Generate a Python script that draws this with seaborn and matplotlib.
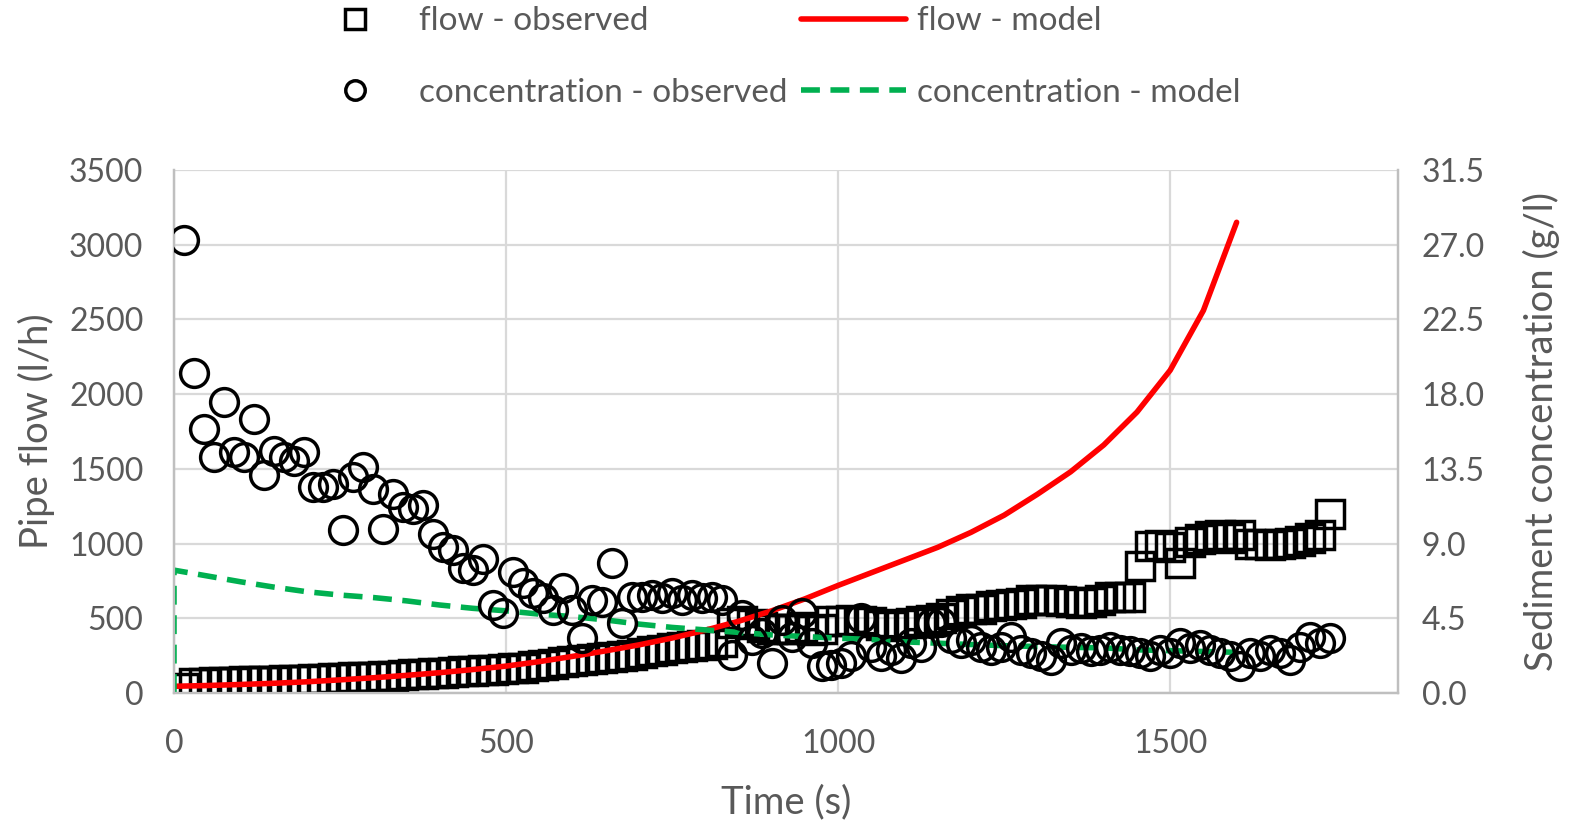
import matplotlib
matplotlib.use("Agg")
import matplotlib.pyplot as plt
import seaborn as sns
import pandas as pd

# ---- data -------------------------------------------------------------
# sampling times of the observations (s)
obs_time = [
    15, 30, 45, 60, 75, 90, 105, 120, 135, 150, 165, 180, 195, 210, 225, 240,
    255, 270, 285, 300, 315, 330, 345, 360, 375, 390, 405, 420, 435, 450, 465,
    480, 495, 510, 525, 540, 555, 570, 585, 600, 615, 630, 645, 660, 675, 690,
    705, 720, 735, 750, 765, 780, 795, 810, 825, 840, 855, 870, 885, 900, 915,
    930, 945, 960, 975, 990, 1005, 1020, 1035, 1050, 1065, 1080, 1095, 1110,
    1125, 1140, 1155, 1170, 1185, 1200, 1215, 1230, 1245, 1260, 1275, 1290,
    1305, 1320, 1335, 1350, 1365, 1380, 1395, 1410, 1425, 1440, 1455, 1470,
    1485, 1500, 1515, 1530, 1545, 1560, 1575, 1590, 1605, 1620, 1635, 1650,
    1665, 1680, 1695, 1710, 1725, 1740,
]

# observed pipe flow (l/h)
flow_observed = [
    35, 68, 70, 72, 74, 75, 77, 79, 81, 83, 85, 88, 90, 93, 96, 98,
    101, 104, 107, 110, 113, 116, 120, 124, 128, 132, 136, 140, 144, 148, 152,
    156, 160, 165, 170, 178, 185, 195, 205, 214, 220, 226, 232, 240, 246, 256,
    270, 280, 290, 300, 305, 312, 320, 330, 340, 470, 485, 460, 440, 430, 425,
    430, 440, 420, 430, 480, 485, 490, 480, 475, 455, 450, 460, 470,
    480, 490, 500, 530, 550, 560, 565, 580, 590, 595, 600, 620,
    625, 620, 615, 610, 605, 612, 620, 640, 645, 645, 850, 985,
    990, 980, 870, 1010, 1030, 1050, 1060, 1040, 1055, 1000, 995, 990,
    1000, 1005, 1020, 1040, 1060, 1200,
]

# observed sediment concentration (g/l)
conc_observed = [
    27.3, 19.3, 15.9, 14.2, 17.5, 14.5, 14.2, 16.5, 13.1, 14.6, 14.2, 14.0, 14.5, 12.4, 12.4, 12.6,
    9.8, 13.0, 13.6, 12.3, 9.9, 12.0, 11.2, 11.1, 11.3, 9.6, 8.8, 8.6, 7.5, 7.4, 8.1,
    5.3, 4.8, 7.3, 6.6, 6.0, 5.7, 5.0, 6.3, 5.0, 3.3, 5.6, 5.5, 7.8, 4.2, 5.8,
    5.8, 5.9, 5.7, 6.0, 5.6, 5.9, 5.7, 5.8, 5.6, 2.3, 4.7, 3.2, 3.6, 1.8, 4.4,
    3.4, 4.8, 3.0, 1.6, 1.7, 1.8, 2.2, 4.5, 2.8, 2.2, 2.6, 2.1, 3.0,
    2.8, 4.2, 4.3, 3.3, 3.0, 3.2, 2.8, 2.6, 2.8, 3.4, 2.6, 2.4,
    2.2, 2.0, 3.0, 2.6, 2.7, 2.5, 2.6, 2.8, 2.6, 2.5, 2.4, 2.2,
    2.6, 2.4, 3.0, 2.7, 2.9, 2.6, 2.4, 2.2, 1.6, 2.4, 2.2, 2.6,
    2.4, 2.0, 2.8, 3.4, 3.0, 3.3,
]

# model output times (s)
model_time = [
    0, 50, 100, 150, 200, 250, 300, 350, 400, 450, 500, 550, 600, 650, 700,
    750, 800, 850, 900, 950, 1000, 1050, 1100, 1150, 1200, 1250, 1300, 1350,
    1400, 1450, 1500, 1550, 1600,
]

# modelled pipe flow (l/h)
flow_model = [
    45, 50, 57, 65, 75, 88, 102, 118, 136, 157, 180, 210, 245, 282, 322,
    368, 420, 480, 550, 630, 720, 805, 890, 975, 1075, 1190, 1330, 1480,
    1660, 1880, 2160, 2560, 3150,
]

# modelled concentration starts from zero at t = 0
conc_model_time = [0] + model_time
conc_model = [
    0.0, 7.4, 7.05, 6.7, 6.38, 6.1, 5.9, 5.75, 5.55, 5.3, 5.1, 4.95, 4.75, 4.6,
    4.4, 4.15, 3.95, 3.8, 3.65, 3.5, 3.4, 3.3, 3.22, 3.08, 3.0, 2.92, 2.85,
    2.8, 2.75, 2.72, 2.6, 2.55, 2.5, 2.45,
]

flow_ticks = [0, 500, 1000, 1500, 2000, 2500, 3000, 3500]
conc_ticks = [0.0, 4.5, 9.0, 13.5, 18.0, 22.5, 27.0, 31.5]
time_ticks = [0, 500, 1000, 1500]

obs = pd.DataFrame({"time": obs_time, "flow": flow_observed, "conc": conc_observed})
mod_flow = pd.DataFrame({"time": model_time, "flow": flow_model})
mod_conc = pd.DataFrame({"time": conc_model_time, "conc": conc_model})

# ---- styling ----------------------------------------------------------
sns.set_theme(style="white")
plt.rcParams["font.family"] = ["Lato", "DejaVu Sans"]
TEXT = "#595959"
GRID = "#d9d9d9"
AXIS = "#bfbfbf"
FS = 23        # tick labels
FS_TITLE = 27.5  # axis titles
FS_LEG = 24    # legend

fig = plt.figure(figsize=(15.7, 8.26), dpi=100)
ax = fig.add_axes([174 / 1570, 133 / 826, 1224 / 1570, 523 / 826])
ax2 = ax.twinx()

marker_kw = dict(linestyle="none", markersize=20, markerfacecolor="none",
                 markeredgecolor="black", markeredgewidth=2.5)

# primary axis: flow
sns.lineplot(data=obs, x="time", y="flow", ax=ax, estimator=None, sort=False,
             marker="s", label="flow - observed", legend=False, zorder=3,
             **marker_kw)
sns.lineplot(data=mod_flow, x="time", y="flow", ax=ax, estimator=None, sort=False,
             color="#ff0000", linewidth=4.0, solid_capstyle="round",
             label="flow - model", legend=False, zorder=4)

# secondary axis: concentration
sns.lineplot(data=mod_conc, x="time", y="conc", ax=ax2, estimator=None, sort=False,
             color="#00b050", linewidth=4.0, linestyle=(0, (3.4, 1.9)),
             label="concentration - model", legend=False, zorder=2)
sns.lineplot(data=obs, x="time", y="conc", ax=ax2, estimator=None, sort=False,
             marker="o", label="concentration - observed", legend=False,
             zorder=3, **marker_kw)

ax.set_xlim(0, 1843)
ax.set_ylim(0, 3500)
ax2.set_ylim(0, 31.5)
ax.set_xticks(time_ticks)
ax.set_yticks(flow_ticks)
ax2.set_yticks(conc_ticks)
ax2.set_yticklabels([f"{v:.1f}" for v in conc_ticks])

ax.grid(True, color=GRID, linewidth=1.6)
ax.set_axisbelow(True)
ax2.grid(False)

for a in (ax, ax2):
    a.spines["top"].set_visible(False)
    for side in ("left", "right", "bottom"):
        a.spines[side].set_color(AXIS)
        a.spines[side].set_linewidth(1.6)
    a.tick_params(length=0, labelsize=FS, labelcolor=TEXT)
ax.tick_params(axis="x", pad=26)
ax.tick_params(axis="y", pad=22)
ax2.tick_params(axis="y", pad=17)

ax.set_xlabel("Time (s)", fontsize=FS_TITLE, color=TEXT, labelpad=18)
ax.set_ylabel("Pipe flow (l/h)", fontsize=FS_TITLE, color=TEXT, labelpad=10)
ax2.set_ylabel("Sediment concentration (g/l)", fontsize=FS_TITLE, color=TEXT,
               labelpad=27)

# legend: observed series in the first column, model series in the second
h1, l1 = ax.get_legend_handles_labels()
h2, l2 = ax2.get_legend_handles_labels()
hmap = dict(zip(l1 + l2, h1 + h2))
order = ["flow - observed", "concentration - observed",
         "flow - model", "concentration - model"]
fig.legend([hmap[k] for k in order], order, ncol=2, loc="center",
           bbox_to_anchor=(772 / 1570, 1 - 57 / 826), frameon=False,
           fontsize=FS_LEG, labelcolor=TEXT, handlelength=3.15,
           handletextpad=0.33, columnspacing=0.42, labelspacing=1.25,
           markerscale=0.7, borderpad=0)

fig.savefig("out.png", dpi=100)
